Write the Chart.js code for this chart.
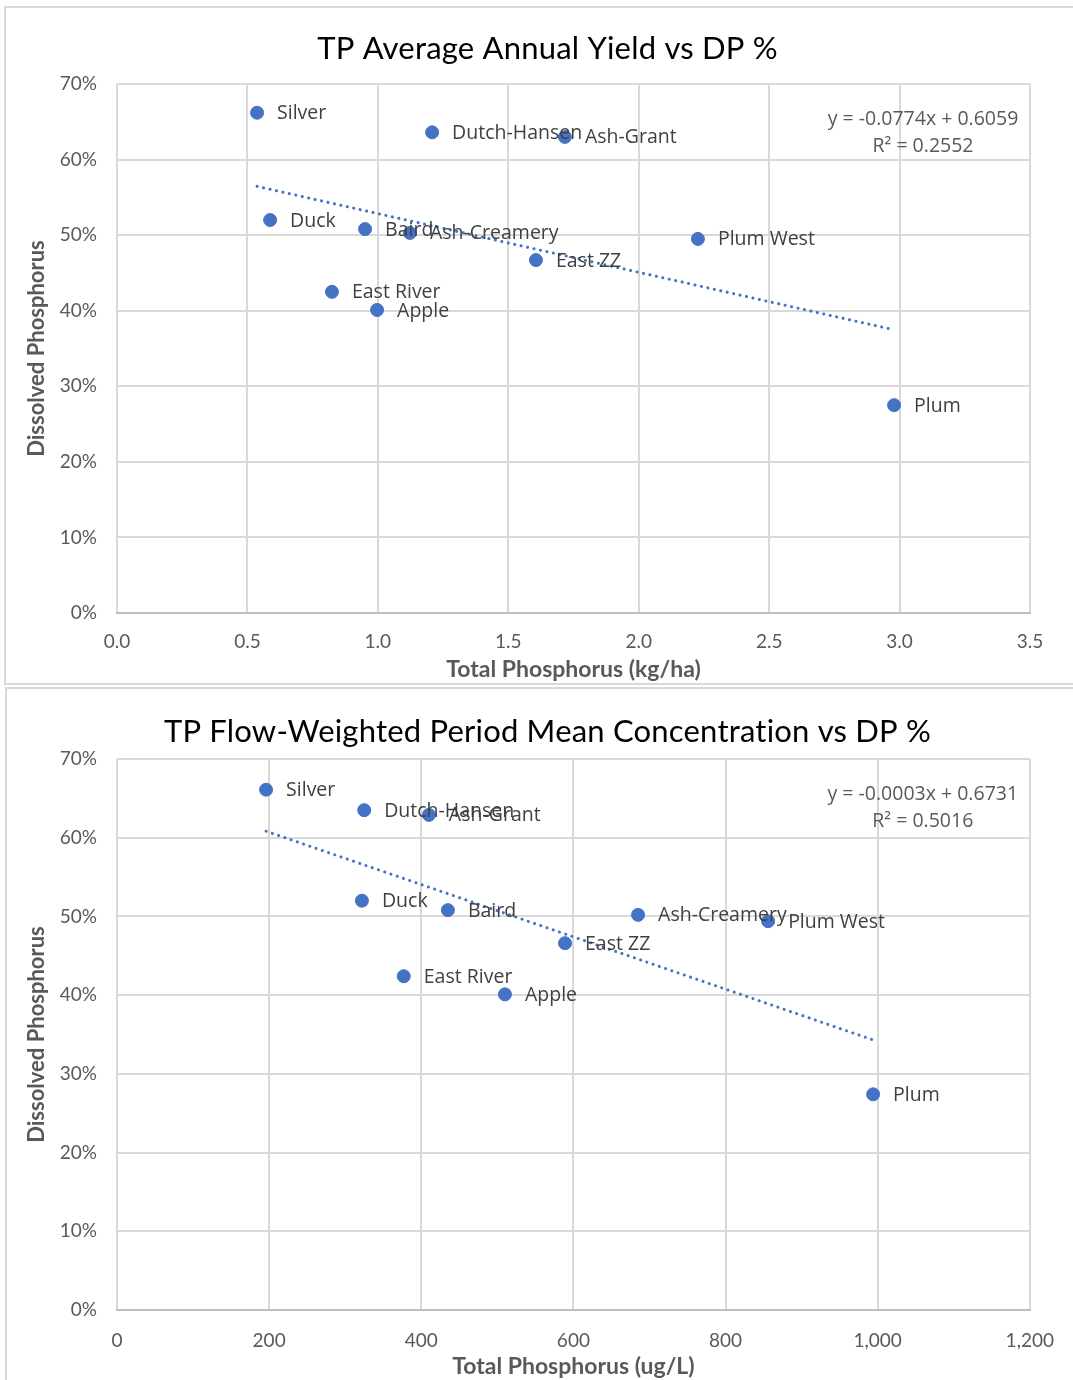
<!DOCTYPE html>
<html>
<head>
<meta charset="utf-8">
<script src="https://cdn.jsdelivr.net/npm/chart.js@4/dist/chart.umd.min.js"></script>
<style>
	body{margin:0;background:#fff;width:1073px;height:1380px;overflow:hidden;position:relative}
	.panel{position:absolute;box-sizing:border-box;border:2px solid #d9d9d9;background:#fff}
	canvas{position:absolute;left:0}
</style>
</head>
<body>
<div class="panel" style="left:4px;top:6px;width:1075px;height:679px"></div>
<div class="panel" style="left:5px;top:687px;width:1075px;height:700px"></div>
<canvas id="yieldChart" style="top:8px"></canvas>
<canvas id="fwmcChart" style="top:690px"></canvas>
<script>
// sites (same order in both charts)
const sites = ["Silver", "Dutch-Hansen", "Ash-Grant", "Duck", "Baird", "Ash-Creamery", "East ZZ", "Plum West", "East River", "Apple", "Plum"];

// dissolved P share, %
const dpYield = [66.2, 63.6, 63.0, 52.0, 50.8, 50.3, 46.7, 49.5, 42.5, 40.1, 27.5];
const dpFwmc  = [66.1, 63.5, 62.9, 52.0, 50.8, 50.2, 46.6, 49.4, 42.4, 40.1, 27.4];

// total phosphorus
const tpYield = [0.537, 1.208, 1.717, 0.587, 0.951, 1.123, 1.606, 2.227, 0.824, 0.997, 2.979];   // kg/ha
const tpFwmc  = [196, 325, 410, 322, 435, 685, 589, 856, 377, 510, 994];                        // ug/L

const yTicks = [0, 10, 20, 30, 40, 50, 60, 70];
const xTicksYield = [0, 0.5, 1.0, 1.5, 2.0, 2.5, 3.0, 3.5];
const xTicksFwmc = [0, 200, 400, 600, 800, 1000, 1200];

const eqYield = ["y = -0.0774x + 0.6059", "R\u00b2 = 0.2552"];
const eqFwmc  = ["y = -0.0003x + 0.6731", "R\u00b2 = 0.5016"];

const blue = '#4472c4';
const grid = '#d9d9d9';

// least squares line between smallest and largest x
function trend(xs, ys){
	const n = xs.length;
	const mx = xs.reduce((a,b)=>a+b,0)/n, my = ys.reduce((a,b)=>a+b,0)/n;
	let sxy = 0, sxx = 0;
	for (let i=0;i<n;i++){ sxy += (xs[i]-mx)*(ys[i]-my); sxx += (xs[i]-mx)*(xs[i]-mx); }
	const b = sxy/sxx, a = my - b*mx;
	const lo = Math.min(...xs), hi = Math.max(...xs);
	return [{x:lo, y:a+b*lo}, {x:hi, y:a+b*hi}];
}

// point names, equation and the chart title (title drawn here so it can sit off-centre like Excel)
const labelPlugin = {
	id: 'pointLabels',
	afterDatasetsDraw(chart, args, opts){
		const ctx = chart.ctx;
		const meta = chart.getDatasetMeta(0);
		ctx.save();
		ctx.font = '19.5px "Open Sans"';
		ctx.fillStyle = '#404040';
		ctx.textAlign = 'left';
		ctx.textBaseline = 'middle';
		meta.data.forEach((pt, i) => {
			ctx.fillText(opts.names[i], pt.x + 20, pt.y + 1);
		});
		const ca = chart.chartArea;
		ctx.fillStyle = '#595959';
		ctx.textAlign = 'center';
		ctx.fillText(opts.eq[0], ca.right - 107, ca.top + 35);
		ctx.fillText(opts.eq[1], ca.right - 107, ca.top + 62);

		ctx.font = '31px Lato';
		ctx.fillStyle = '#000';
		ctx.letterSpacing = '0.2px';
		ctx.fillText(opts.title, chart.width/2 + 11, opts.titleY);
		ctx.restore();
	}
};

function makeChart(id, h, xs, ys, xTicks, xFmt, title, xTitle, eq, lay){
	const cv = document.getElementById(id);
	cv.width = 1073; cv.height = h;
	cv.style.width = '1073px'; cv.style.height = h + 'px';
	return new Chart(cv, {
		type: 'scatter',
		data: {
			datasets: [{
				data: xs.map((x,i)=>({x:x, y:ys[i]})),
				backgroundColor: blue,
				borderColor: blue,
				pointRadius: 6.5,
				pointHoverRadius: 6.5
			},{
				type: 'line',
				data: trend(xs, ys),
				borderColor: blue,
				borderWidth: 3,
				borderDash: [0.1, 6.5],
				borderCapStyle: 'round',
				pointRadius: 0,
				fill: false
			}]
		},
		options: {
			responsive: false,
			animation: false,
			events: [],
			layout: { padding: { left: 0, right: 43, top: lay.top, bottom: 0 } },
			scales: {
				x: {
					type: 'linear',
					min: xTicks[0],
					max: xTicks[xTicks.length-1],
					afterBuildTicks: s => { s.ticks = xTicks.map(v=>({value:v})); },
					afterFit: s => { s.height = lay.xh; },
					grid: { color: grid, lineWidth: 2, drawTicks: false },
					border: { color: '#bfbfbf', width: 2 },
					ticks: {
						padding: lay.xpad,
						color: '#595959',
						font: { family: 'Lato', size: 19 },
						callback: xFmt
					},
					title: {
						display: true,
						text: xTitle,
						color: '#595959',
						font: { family: 'Lato', size: 23, weight: 'bold' },
						padding: { top: 0, bottom: lay.xtpad }
					}
				},
				y: {
					min: 0,
					max: 70,
					afterBuildTicks: s => { s.ticks = yTicks.map(v=>({value:v})); },
					afterFit: s => { s.width = 117; },
					grid: { color: grid, lineWidth: 2, drawTicks: false },
					border: { display: false },
					ticks: {
						padding: 20,
						color: '#595959',
						font: { family: 'Lato', size: 19 },
						callback: v => v + '%'
					},
					title: {
						display: true,
						text: 'Dissolved Phosphorus',
						color: '#595959',
						font: { family: 'Lato', size: 22, weight: 'bold' },
						padding: { top: 24, bottom: 0 }
					}
				}
			},
			plugins: {
				legend: { display: false },
				tooltip: { enabled: false },
				title: { display: false },
				pointLabels: { names: sites, eq: eq, title: title, titleY: lay.titleY }
			}
		},
		plugins: [labelPlugin]
	});
}

makeChart('yieldChart', 675, tpYield, dpYield, xTicksYield, v => v.toFixed(1),
	'TP Average Annual Yield vs DP %', 'Total Phosphorus (kg/ha)', eqYield,
	{ top: 76, titleY: 41, xh: 70, xpad: 17, xtpad: 0 });

makeChart('fwmcChart', 690, tpFwmc, dpFwmc, xTicksFwmc, v => v.toLocaleString('en-US'),
	'TP Flow-Weighted Period Mean Concentration vs DP %', 'Total Phosphorus (ug/L)', eqFwmc,
	{ top: 69, titleY: 42, xh: 70, xpad: 19, xtpad: 0 });
</script>
</body>
</html>
